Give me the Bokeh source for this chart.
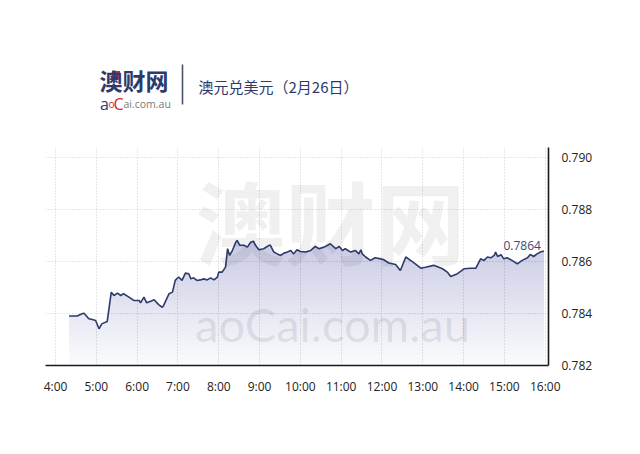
from datetime import datetime
from bokeh.plotting import figure
from bokeh.layouts import column
from bokeh.models import Label, FixedTicker, NumeralTickFormatter, Range1d
from bokeh.embed import file_html
from bokeh.resources import INLINE

# ---- data ----
TIMES = ["4:20", "4:32", "4:39", "4:42", "4:49", "4:54", "4:59", "5:04", "5:08", "5:16",
         "5:22", "5:26", "5:31", "5:36", "5:40", "5:48", "5:55", "6:03", "6:05", "6:10",
         "6:14", "6:20", "6:25", "6:32", "6:37", "6:39", "6:47", "6:52", "6:56", "7:01",
         "7:06", "7:11", "7:16", "7:19", "7:23", "7:28", "7:33", "7:38", "7:43", "7:48",
         "7:53", "7:58", "8:00", "8:05", "8:10", "8:13", "8:16", "8:20", "8:25", "8:27",
         "8:31", "8:37", "8:42", "8:47", "8:51", "8:54", "8:59", "9:06", "9:14", "9:16",
         "9:21", "9:26", "9:31", "9:36", "9:41", "9:46", "9:50", "9:55", "10:00", "10:08",
         "10:15", "10:22", "10:27", "10:35", "10:44", "10:52", "10:57", "11:02", "11:06", "11:14",
         "11:21", "11:26", "11:29", "11:31", "11:36", "11:43", "11:50", "11:58", "12:03", "12:10",
         "12:20", "12:27", "12:35", "12:42", "12:49", "12:57", "13:04", "13:16", "13:29", "13:36",
         "13:41", "13:51", "14:01", "14:10", "14:18", "14:25", "14:30", "14:35", "14:40", "14:45",
         "14:47", "14:50", "14:55", "14:59", "15:04", "15:11", "15:19", "15:26", "15:34", "15:38",
         "15:43", "15:48", "15:53", "15:58"]
RATES = [0.78390, 0.78390, 0.78399, 0.78401, 0.78380, 0.78377, 0.78373, 0.78341, 0.78360, 0.78369,
         0.78482, 0.78469, 0.78478, 0.78469, 0.78476, 0.78463, 0.78450, 0.78450, 0.78441, 0.78463,
         0.78441, 0.78447, 0.78453, 0.78433, 0.78424, 0.78431, 0.78476, 0.78482, 0.78527, 0.78540,
         0.78527, 0.78555, 0.78553, 0.78533, 0.78537, 0.78527, 0.78529, 0.78533, 0.78529, 0.78537,
         0.78529, 0.78540, 0.78559, 0.78559, 0.78578, 0.78649, 0.78623, 0.78642, 0.78674, 0.78681,
         0.78662, 0.78662, 0.78655, 0.78674, 0.78678, 0.78662, 0.78645, 0.78649, 0.78662, 0.78662,
         0.78636, 0.78629, 0.78623, 0.78632, 0.78636, 0.78642, 0.78629, 0.78645, 0.78638, 0.78636,
         0.78642, 0.78658, 0.78649, 0.78655, 0.78668, 0.78649, 0.78658, 0.78642, 0.78649, 0.78636,
         0.78642, 0.78629, 0.78645, 0.78629, 0.78617, 0.78604, 0.78614, 0.78610, 0.78606, 0.78594,
         0.78588, 0.78565, 0.78617, 0.78604, 0.78591, 0.78574, 0.78578, 0.78585, 0.78572, 0.78559,
         0.78542, 0.78553, 0.78572, 0.78574, 0.78574, 0.78610, 0.78604, 0.78617, 0.78614, 0.78623,
         0.78636, 0.78619, 0.78626, 0.78610, 0.78614, 0.78604, 0.78591, 0.78604, 0.78614, 0.78627,
         0.78619, 0.78629, 0.78636, 0.78640]
X_TICK_HOURS = [4, 5, 6, 7, 8, 9, 10, 11, 12, 13, 14, 15, 16]
X_TICK_LABELS = ["4:00", "5:00", "6:00", "7:00", "8:00", "9:00", "10:00", "11:00",
                 "12:00", "13:00", "14:00", "15:00", "16:00"]
Y_TICKS = [0.782, 0.784, 0.786, 0.788, 0.790]
LAST_LABEL = "0.7864"
TITLE = "澳元兑美元（2月26日）"
BRAND = "澳财网"


def to_hours(s):
    t = datetime.strptime(s, "%H:%M")
    return t.hour + t.minute / 60.0


xs = [to_hours(t) for t in TIMES]
ys = RATES

NAVY = "#2d3a6b"
FONT = "Open Sans"
CJK = "Noto Sans CJK SC"
W = 624
HEAD_H = 140
BL, BR = 45, 76   # left/right borders (frame spans page x 45..548)

# ---------------- header ----------------
h = figure(width=W, height=HEAD_H, output_backend="svg", toolbar_location=None,
           x_range=Range1d(BL, W - BR), y_range=Range1d(HEAD_H, 0),
           x_axis_location=None, y_axis_location=None,
           min_border_left=BL, min_border_right=BR,
           min_border_top=0, min_border_bottom=0)
h.outline_line_color = None
h.xgrid.visible = False
h.ygrid.visible = False
h.background_fill_color = "white"
h.border_fill_color = "white"

h.add_layout(Label(x=99, y=79, text=BRAND, text_font=CJK, text_font_style="bold",
                   text_font_size="23px", text_color=NAVY,
                   text_align="left", text_baseline="middle"))
h.rect(x=[115.5], y=[74.5], width=8, height=8, fill_color="#d3262d", line_color=None)
h.add_layout(Label(x=99.5, y=103, text="a", text_font=FONT, text_font_size="16px",
                   text_color=NAVY, text_align="left", text_baseline="alphabetic"))
h.add_layout(Label(x=108, y=103, text="o", text_font=FONT, text_font_size="10px",
                   text_color="#d3262d", text_align="left", text_baseline="alphabetic"))
h.add_layout(Label(x=113, y=103, text="C", text_font=FONT, text_font_size="16px",
                   text_color="#d3262d", text_align="left", text_baseline="alphabetic"))
h.add_layout(Label(x=123, y=103, text="ai.com.au", text_font=FONT, text_font_size="10.5px",
                   text_color="#7a7a7a", text_align="left", text_baseline="alphabetic"))
h.segment(x0=[182], y0=[64], x1=[182], y1=[104], line_color="#4a5070", line_width=1.6)
h.add_layout(Label(x=198, y=86, text=TITLE, text_font=CJK, text_font_size="15px",
                   text_color=NAVY, text_align="left", text_baseline="middle"))

# ---------------- main chart ----------------
TOP, BOT = 7, 73
p = figure(width=W, height=438 - HEAD_H, output_backend="svg", toolbar_location=None,
           x_range=Range1d(3.755, 16.08), y_range=Range1d(0.782, 0.79038),
           y_axis_location="right",
           min_border_left=BL, min_border_right=BR, min_border_top=TOP, min_border_bottom=BOT)
p.outline_line_color = None
p.background_fill_color = "white"
p.border_fill_color = "white"

p.xgrid.ticker = FixedTicker(ticks=X_TICK_HOURS)
p.ygrid.ticker = FixedTicker(ticks=Y_TICKS)
for g in (p.xgrid, p.ygrid):
    g.grid_line_color = "#cfcfcf"
    g.grid_line_dash = "1 2"
    g.grid_line_width = 1

xa = p.xaxis[0]
xa.ticker = FixedTicker(ticks=X_TICK_HOURS)
xa.major_label_overrides = {hh: lab for hh, lab in zip(X_TICK_HOURS, X_TICK_LABELS)}
ya = p.yaxis[0]
ya.ticker = FixedTicker(ticks=Y_TICKS)
ya.formatter = NumeralTickFormatter(format="0.000")
for ax in (xa, ya):
    ax.axis_line_color = "#1a1a1a"
    ax.axis_line_width = 1.6
    ax.major_tick_line_color = None
    ax.minor_tick_line_color = None
    ax.major_label_text_font = FONT
    ax.major_label_text_font_size = "12px"
    ax.major_label_text_color = "#222222"
xa.major_label_standoff = 6
ya.major_label_standoff = 7

# gradient-like fill under the line
base = 0.782
p.varea(x=xs, y1=[base] * len(xs), y2=ys, fill_color="#6a76ac", fill_alpha=0.03)
n_layers = 26
for k in range(1, n_layers + 1):
    lev = base + (0.7870 - base) * k / n_layers
    p.varea(x=xs, y1=[lev] * len(xs), y2=[max(v, lev) for v in ys],
            fill_color="#6a76ac", fill_alpha=0.012)

p.line(xs, ys, line_color=NAVY, line_width=1.6)

# watermark (frame-relative screen units: frame left at page x 45, bottom at page y 365)
FL, FB = 45, 365
p.add_layout(Label(x=330 - FL, y=FB - 218, x_units="screen", y_units="screen", text=BRAND,
                   text_font=CJK, text_font_style="bold", text_font_size="90px",
                   text_color="#202030", text_alpha=0.065,
                   text_align="center", text_baseline="middle"))
p.add_layout(Label(x=332 - FL, y=FB - 323, x_units="screen", y_units="screen", text="aoCai.com.au",
                   text_font="Lato", text_font_size="47px",
                   text_color="#202030", text_alpha=0.1,
                   text_align="center", text_baseline="alphabetic"))

p.add_layout(Label(x=xs[-1], y=ys[-1], text=LAST_LABEL, x_offset=-3, y_offset=6,
                   text_font=FONT, text_font_size="12px", text_color="#3b4a7c",
                   text_align="right", text_baseline="alphabetic"))

layout = column(h, p, spacing=0)
open("out.html", "w").write(file_html(layout, INLINE))
